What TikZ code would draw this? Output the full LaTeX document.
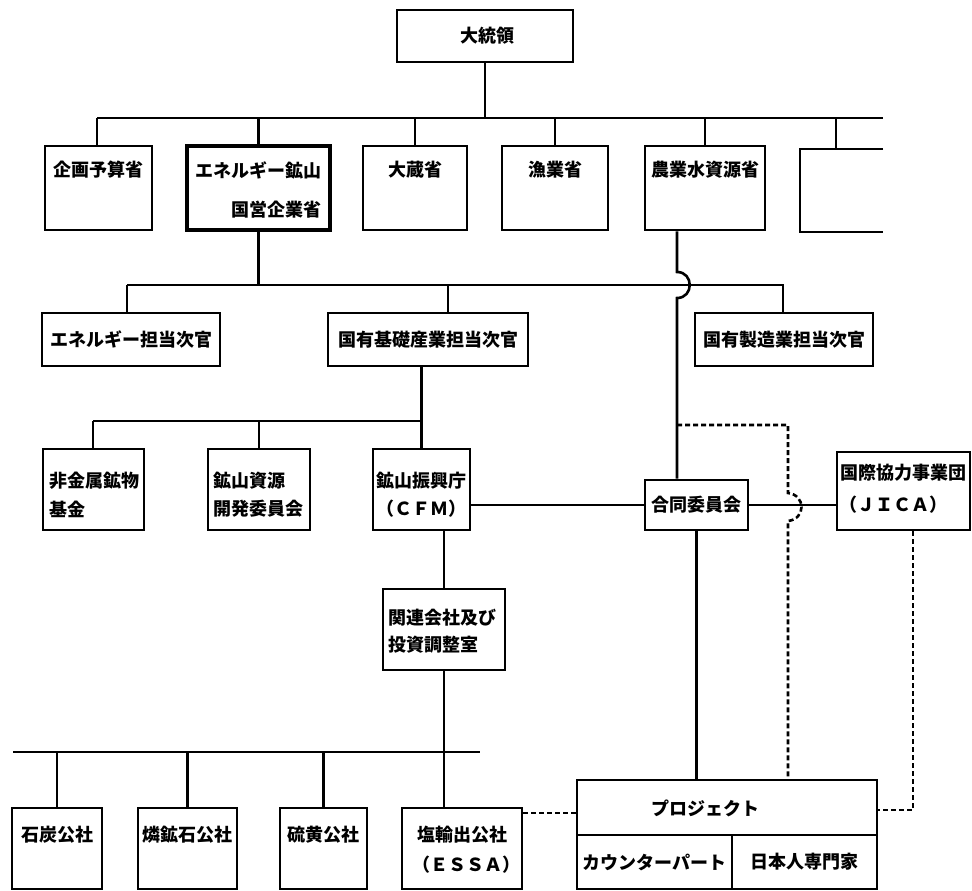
\documentclass[tikz,border=0pt]{standalone}
\usepackage{fontspec}
\newfontfamily\jp{Noto Sans CJK JP}
\begin{document}
\begin{tikzpicture}[x=1pt,y=-1pt,
  box/.style={draw, line width=2.6pt, inner sep=0pt},
  lbl/.style={font=\jp\bfseries\fontsize{18}{21}\selectfont, inner sep=0pt},
  ln/.style={line width=2.6pt},
  dl/.style={line width=2.6pt, dash pattern=on 5pt off 3pt}]
\useasboundingbox (0,0) rectangle (972,891);
% boxes
\node[box, minimum width=176pt, minimum height=52pt] (pres) at (485,36) {};
\node[box, minimum width=107pt, minimum height=84pt] (kikaku) at (98.5,188) {};
\node[box, line width=3.6pt, minimum width=143pt, minimum height=84pt] (enemin) at (258.5,188) {};
\node[box, minimum width=104pt, minimum height=84pt] (okura) at (415,188) {};
\node[box, minimum width=106pt, minimum height=84pt] (gyogyo) at (555,188) {};
\node[box, minimum width=120pt, minimum height=84pt] (nogyo) at (705,188) {};
\node[box, minimum width=178pt, minimum height=53pt] (ene) at (131,339.5) {};
\node[box, minimum width=200pt, minimum height=53pt] (kokuyu) at (428,339.5) {};
\node[box, minimum width=178pt, minimum height=53pt] (seizo) at (784,339.5) {};
\node[box, minimum width=101pt, minimum height=81pt] (hikin) at (93.5,489.5) {};
\node[box, minimum width=102pt, minimum height=81pt] (kozan) at (259,489.5) {};
\node[box, minimum width=97pt, minimum height=81pt] (cfm) at (421.5,489.5) {};
\node[box, minimum width=103pt, minimum height=50pt] (godo) at (696.5,505) {};
\node[box, minimum width=133pt, minimum height=78pt] (jica) at (903.5,491) {};
\node[box, minimum width=122pt, minimum height=81pt] (kanren) at (444,629.5) {};
\node[box, minimum width=90pt, minimum height=81pt] (sekitan) at (57,848.5) {};
\node[box, minimum width=99pt, minimum height=81pt] (rin) at (187.5,848.5) {};
\node[box, minimum width=87pt, minimum height=81pt] (iou) at (323.5,848.5) {};
\node[box, minimum width=120pt, minimum height=81pt] (essa) at (462,848.5) {};
\node[box, minimum width=300pt, minimum height=55pt] (proj) at (727,807.5) {};
\node[box, minimum width=155pt, minimum height=54pt] (cp) at (654.5,862) {};
\node[box, minimum width=145pt, minimum height=54pt] (jp) at (804.5,862) {};
% open box at right edge
\draw[ln] (883,149) -- (800,149) -- (800,232) -- (883,232);
% texts
\node[lbl] (t0) at (487,36) {大統領};
\node[lbl] (t1) at (98.5,170) {企画予算省};
\node[lbl] (t2) at (258.5,170) {エネルギー鉱山};
\node[lbl, anchor=east] (t3) at (322,210) {国営企業省};
\node[lbl] (t4) at (415,170) {大蔵省};
\node[lbl] (t5) at (555,170) {漁業省};
\node[lbl] (t6) at (705,170) {農業水資源省};
\node[lbl] (t7) at (131,339.5) {エネルギー担当次官};
\node[lbl] (t8) at (428,339.5) {国有基礎産業担当次官};
\node[lbl] (t9) at (784,339.5) {国有製造業担当次官};
\node[lbl, anchor=west] (t10) at (49,481) {非金属鉱物};
\node[lbl, anchor=west] (t11) at (49,509) {基金};
\node[lbl, anchor=west] (t12) at (213,481) {鉱山資源};
\node[lbl, anchor=west] (t13) at (213,509) {開発委員会};
\node[lbl] (t14) at (421.5,481) {鉱山振興庁};
\node[lbl] (t15) at (421.5,509) {（ＣＦＭ）};
\node[lbl] (t16) at (696.5,505) {合同委員会};
\node[lbl] (t17) at (903.5,473) {国際協力事業団};
\node[lbl] (t18) at (893,505) {（ＪＩＣＡ）};
\node[lbl, anchor=west] (t19) at (388,618) {関連会社及び};
\node[lbl, anchor=west] (t20) at (388,645) {投資調整室};
\node[lbl] (t21) at (57,835) {石炭公社};
\node[lbl] (t22) at (187.5,835) {燐鉱石公社};
\node[lbl] (t23) at (323.5,835) {硫黄公社};
\node[lbl] (t24) at (462,835) {塩輸出公社};
\node[lbl] (t25) at (466,865) {（ＥＳＳＡ）};
\node[lbl] (t26) at (705,808) {プロジェクト};
\node[lbl] (t27) at (654.5,862) {カウンターパート};
\node[lbl] (t28) at (804.5,862) {日本人専門家};
% bus coordinates
\coordinate (b1l) at (97,118);
\coordinate (b1r) at (883,118);
\coordinate (bx) at (836,149);
\coordinate (b2l) at (127,285);
\coordinate (b2r) at (783,285);
\coordinate (b3l) at (93,421);
\coordinate (b4l) at (13,752);
\coordinate (b4r) at (480,752);
\coordinate (jx) at (677,0);
\coordinate (dstart) at (677,425);
% level 1
\draw[ln] (pres.south) -- (pres.south |- b1l);
\draw[ln] (b1l) -- (b1r);
\draw[ln] (b1l) -- (kikaku.north -| b1l);
\foreach \n in {enemin,okura,gyogyo,nogyo} \draw[ln] (\n.north |- b1l) -- (\n.north);
\draw[ln] (bx |- b1l) -- (bx);
% level 2
\draw[ln] (enemin.south) -- (enemin.south |- b2l);
\draw[ln] (b2l) -- (b2r) -- (b2r |- seizo.north);
\draw[ln] (b2l) -- (b2l |- ene.north);
\draw[ln] (448,285) -- (448,313);
% farm ministry line with jump
\draw[ln] (nogyo.south -| jx) -- (677,272) .. controls (694,272) and (694,298) .. (677,298) -- (godo.north -| jx);
% level 3
\draw[ln] (kokuyu.south -| cfm.north) -- (cfm.north |- b3l);
\draw[ln] (b3l) -- (cfm.north |- b3l) -- (cfm.north);
\draw[ln] (b3l) -- (hikin.north -| b3l);
\draw[ln] (kozan.north |- b3l) -- (kozan.north);
% CFM to joint committee to JICA
\draw[ln] (cfm.east |- godo.west) -- (godo.west);
\draw[ln] (godo.east) -- (jica.west |- godo.east);
% CFM to kanren to ESSA
\draw[ln] (cfm.south -| kanren.north) -- (kanren.north);
\draw[ln] (kanren.south) -- (essa.north -| kanren.south);
\draw[ln] (b4l) -- (b4r);
\foreach \n in {sekitan,rin,iou} \draw[ln] (\n.north |- b4l) -- (\n.north);
% joint committee to project
\draw[ln] (godo.south) -- (godo.south |- proj.north);
% dashed lines
\draw[dl] (dstart) -- (788,425) -- (788,493) .. controls (806,495) and (806,519) .. (788,521) -- (proj.north -| 788,0);
\draw[dl] (jica.south -| 913,0) -- (913,810) -- (proj.east |- 0,810);
\draw[dl] (essa.east |- 0,813) -- (proj.west |- 0,813);
\end{tikzpicture}
\end{document}
